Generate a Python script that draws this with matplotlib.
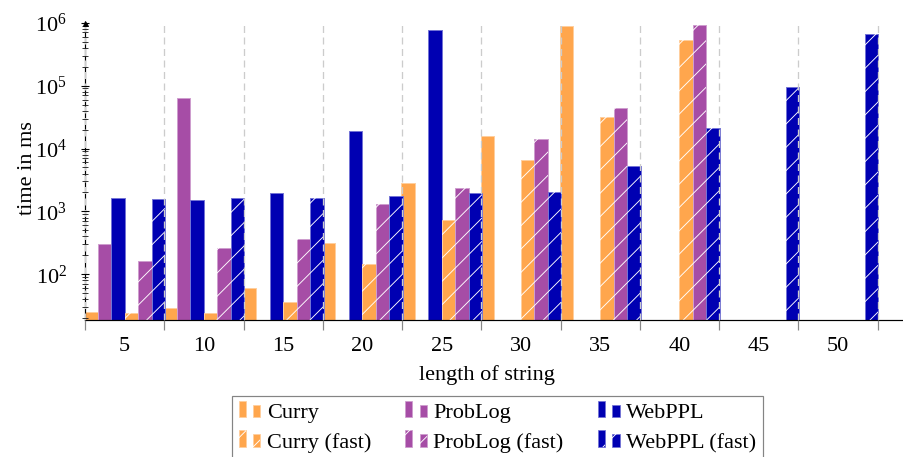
import numpy as np
import matplotlib
matplotlib.use("Agg")
import matplotlib.pyplot as plt
from matplotlib.patches import Rectangle
from matplotlib.legend_handler import HandlerBase
from matplotlib.ticker import FixedLocator, LogLocator, NullFormatter

# dpi 70 so that the '/' hatch spacing comes out close to the original
DPI = 70


def pt(px):
    # pixels -> points at this dpi
    return px * 72.0 / DPI


plt.rcParams['font.family'] = ['Liberation Serif', 'DejaVu Serif']
plt.rcParams['mathtext.fontset'] = 'custom'
plt.rcParams['mathtext.rm'] = 'Liberation Serif'
plt.rcParams['mathtext.it'] = 'Liberation Serif:italic'
plt.rcParams['hatch.linewidth'] = pt(0.9)
plt.rcParams['lines.scale_dashes'] = False

nan = np.nan
lengths = [5, 10, 15, 20, 25, 30, 35, 40, 45, 50]
curry = [24, 27.7, 60.5, 310, 2830, 15800, 895000, nan, nan, nan]
problog = [306, 64300, nan, nan, nan, nan, nan, nan, nan, nan]
webppl = [1615, 1500, 1960, 18960, 774000, nan, nan, nan, nan, nan]
curry_fast = [23.4, 23.4, 35.9, 144, 730, 6490, 31700, 531000, nan, nan]
problog_fast = [159, 265, 364, 1312, 2330, 14150, 44000, 918000, nan, nan]
webppl_fast = [1574, 1615, 1615, 1758, 1960, 2010, 5210, 21200, 95000, 655000]

orange = '#FFA64D'
purple = '#A64DA6'
blue = '#0000B2'

series = [
    ('Curry', curry, orange, False),
    ('ProbLog', problog, purple, False),
    ('WebPPL', webppl, blue, False),
    ('Curry (fast)', curry_fast, orange, True),
    ('ProbLog (fast)', problog_fast, purple, True),
    ('WebPPL (fast)', webppl_fast, blue, True),
]


def lighter(c, f=0.45):
    r, g, b = matplotlib.colors.to_rgb(c)
    return (r + (1 - r) * f, g + (1 - g) * f, b + (1 - b) * f)


fs = pt(22.2)

fig = plt.figure(figsize=(903 / DPI, 457 / DPI), dpi=DPI)
ax = fig.add_axes([85 / 903, 1 - 320 / 457, (903 - 85) / 903, (320 - 22.7) / 457])

w = 0.85
for i, (name, vals, col, fast) in enumerate(series):
    vals = np.array(vals, dtype=float)
    ok = ~np.isnan(vals)
    xs = np.array(lengths, dtype=float)[ok] + (i - 2.5) * w
    ax.bar(xs, vals[ok], w, bottom=1, color=col, edgecolor=lighter(col),
           linewidth=pt(1), zorder=1)
    if fast:
        ax.bar(xs, vals[ok], w, bottom=1, facecolor='none', edgecolor='white',
               linewidth=0, hatch='/', zorder=1.1)

ax.set_yscale('log')
ax.set_ylim(18.8, 1e6)
ax.set_xlim(2.5, 54.1)

# x axis: labels at group centres, gray ticks + dashed grid at group borders
ax.set_xticks(lengths)
ax.set_xticklabels([str(v) for v in lengths])
ax.xaxis.set_minor_locator(FixedLocator([2.5 + 5 * k for k in range(11)]))
ax.tick_params(axis='x', which='major', length=0, pad=pt(17), labelsize=fs)
ax.tick_params(axis='x', which='minor', length=pt(10), width=pt(1.2),
               color='#888888', direction='out')
ax.grid(axis='x', which='minor', color='#cccccc', linewidth=pt(1.3),
        linestyle=(0, (pt(7), pt(4.5))), zorder=2)
ax.grid(axis='x', which='major', visible=False)

# y axis
ax.yaxis.set_major_locator(LogLocator(base=10, numticks=10))
ax.yaxis.set_minor_locator(LogLocator(base=10, subs=np.arange(2, 10), numticks=20))
ax.yaxis.set_minor_formatter(NullFormatter())
ax.tick_params(axis='y', which='major', direction='inout', length=pt(8),
               width=pt(1.1), pad=pt(14), labelsize=fs, color='black')
ax.tick_params(axis='y', which='minor', direction='inout', length=pt(6),
               width=pt(0.9), color='#222222')

for s in ['top', 'right']:
    ax.spines[s].set_visible(False)
ax.spines['left'].set_linewidth(pt(1.2))
ax.spines['bottom'].set_linewidth(pt(1.2))
ax.set_axisbelow(False)

# arrow head on the y axis
ax.plot([0], [1.0], marker='^', color='black', markersize=pt(5),
        transform=ax.transAxes, clip_on=False, zorder=5)

ax.set_xlabel('length of string', fontsize=fs)
ax.xaxis.set_label_coords((487 - 85) / 818, (320 - 365) / 297.3)
ax.set_ylabel('time in ms', fontsize=fs, va='center')
ax.yaxis.set_label_coords((28 - 85) / 818, (320 - 168) / 297.3)


class BarPair(HandlerBase):
    # two little bars like the pgfplots ybar legend image
    def create_artists(self, legend, orig_handle, xdescent, ydescent,
                       width, height, fontsize, trans):
        fc = orig_handle.get_facecolor()
        fast = orig_handle.get_hatch() is not None
        out = []
        x0 = -xdescent
        y0 = pt(1.2)
        for dx, bw, bh in [(0, 7, 16.5), (14.3, 7.5, 12.5)]:
            r = Rectangle((x0 + pt(dx), y0), pt(bw), pt(bh), facecolor=fc,
                          edgecolor=lighter(fc), linewidth=pt(0.8), transform=trans)
            out.append(r)
            if fast:
                h = Rectangle((x0 + pt(dx), y0), pt(bw), pt(bh), facecolor='none',
                              edgecolor='white', linewidth=0, hatch='/', transform=trans)
                out.append(h)
        return out


order = [0, 3, 1, 4, 2, 5]
handles = []
labels = []
for k in order:
    name, vals, col, fast = series[k]
    handles.append(Rectangle((0, 0), 1, 1, facecolor=col, hatch='/' if fast else None))
    labels.append(name)

leg = fig.legend(handles, labels, ncol=3, loc='upper left',
                 bbox_to_anchor=(232 / 903, 1 - 396 / 457),
                 bbox_transform=fig.transFigure, borderaxespad=0,
                 fontsize=fs, frameon=True, fancybox=False,
                 handler_map={Rectangle: BarPair()},
                 handlelength=22 / 22.2, handletextpad=6 / 22.2,
                 columnspacing=1.55, labelspacing=0.42, borderpad=0.3)
leg.get_frame().set_edgecolor('#666666')
leg.get_frame().set_linewidth(pt(1.2))

fig.savefig('out.png', dpi=DPI)
